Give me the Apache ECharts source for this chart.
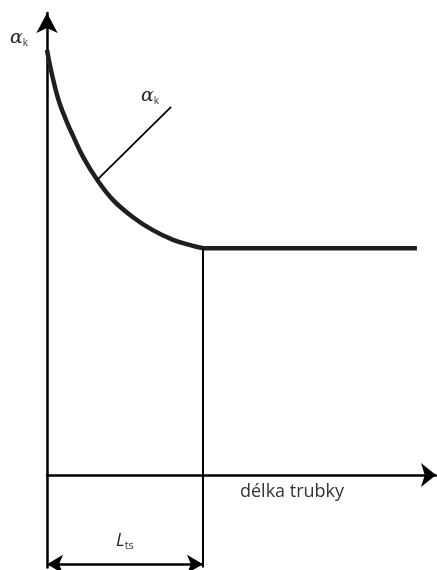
<!DOCTYPE html>
<html>
<head>
<meta charset="utf-8">
<script src="https://cdn.jsdelivr.net/npm/echarts@6/dist/echarts.min.js"></script>
<style>
  html, body { margin: 0; padding: 0; background: #fff; }
  #chart { width: 437px; height: 570px; }
</style>
</head>
<body>
<div id="chart"></div>
<script>
// krivka alfa_k podel trubky (relativni jednotky)
const curveX = [0, 0.08, 0.21, 0.33, 0.51, 0.67, 0.93, 1.29, 1.70, 2.21, 2.72, 3.24, 3.75, 4.01];
const curveY = [9.2, 8.85, 8.38, 8.03, 7.64, 7.34, 6.88, 6.39, 5.95, 5.58, 5.30, 5.09, 4.96, 4.91];
// ustalena hodnota za L_ts
const flatX = [4.01, 9.51];
const flatY = [4.91, 4.91];
// svisla cara v L_ts
const lineTsX = [4.01, 4.01];
const lineTsY = [4.91, -2];
// odkazova cara k popisku alfa_k
const leaderX = [1.29, 3.19];
const leaderY = [6.39, 7.97];
// kota L_ts
const dimX = [0, 4.01];
const dimY = -1.93;

const zip = (xs, ys) => xs.map((x, i) => [x, ys[i]]);

const chart = echarts.init(document.getElementById('chart'));
const dark = '#1f1f1f';

const option = {
  animation: false,
  backgroundColor: '#fff',
  grid: { left: 47, right: 1, top: 13, bottom: 2.6 },
  xAxis: {
    type: 'value', min: 0, max: 10,
    axisLine: { show: true, onZero: true, symbol: ['none', 'arrow'], symbolSize: [18, 15],
      lineStyle: { color: '#000', width: 2.5 } },
    axisTick: { show: false }, axisLabel: { show: false }, splitLine: { show: false }
  },
  yAxis: {
    type: 'value', min: -2, max: 10,
    axisLine: { show: true, symbol: ['none', 'arrow'], symbolSize: [16, 20],
      lineStyle: { color: '#000', width: 2.5 } },
    axisTick: { show: false }, axisLabel: { show: false }, splitLine: { show: false }
  },
  series: [
    {
      type: 'line', data: zip(curveX, curveY), smooth: 0.4, symbol: 'none',
      lineStyle: { color: dark, width: 4.5 }
    },
    {
      type: 'line', data: zip(flatX, flatY), symbol: 'none',
      lineStyle: { color: dark, width: 4.5 }
    },
    {
      type: 'line', data: zip(lineTsX, lineTsY), symbol: 'none',
      lineStyle: { color: '#000', width: 2 }
    },
    {
      type: 'line', data: zip(leaderX, leaderY), symbol: 'none',
      lineStyle: { color: '#000', width: 1.8 }
    },
    {
      type: 'line', data: [], symbol: 'none',
      markLine: {
        silent: true, symbol: ['arrow', 'arrow'], symbolSize: [14, 16],
        label: { show: false },
        lineStyle: { color: '#000', width: 2.5, type: 'solid' },
        data: [[{ coord: [dimX[0], dimY] }, { coord: [dimX[1], dimY] }]]
      }
    }
  ],
  graphic: [
    {
      type: 'text', left: 10, top: 29,
      style: {
        text: '{a|α}{s|k}',
        rich: {
          a: { fontFamily: 'DejaVu Serif', fontStyle: 'italic', fontSize: 19, fill: '#222' },
          s: { fontFamily: 'Open Sans', fontSize: 10, fill: '#333', padding: [9, 0, 0, 0] }
        }
      }
    },
    {
      type: 'text', left: 141, top: 87,
      style: {
        text: '{a|α}{s|k}',
        rich: {
          a: { fontFamily: 'DejaVu Serif', fontStyle: 'italic', fontSize: 19, fill: '#222' },
          s: { fontFamily: 'Open Sans', fontSize: 10, fill: '#333', padding: [9, 0, 0, 0] }
        }
      }
    },
    {
      type: 'text', left: 240, top: 483,
      style: { text: 'délka trubky', font: '18px "Open Sans"', fill: '#333' }
    },
    {
      type: 'text', left: 116, top: 532,
      style: {
        text: '{l|L}{s|ts}',
        rich: {
          l: { fontFamily: 'Open Sans', fontStyle: 'italic', fontSize: 18, fill: '#222' },
          s: { fontFamily: 'Open Sans', fontSize: 11, fill: '#333', padding: [9, 0, 0, 0] }
        }
      }
    }
  ]
};

chart.setOption(option);
</script>
</body>
</html>
